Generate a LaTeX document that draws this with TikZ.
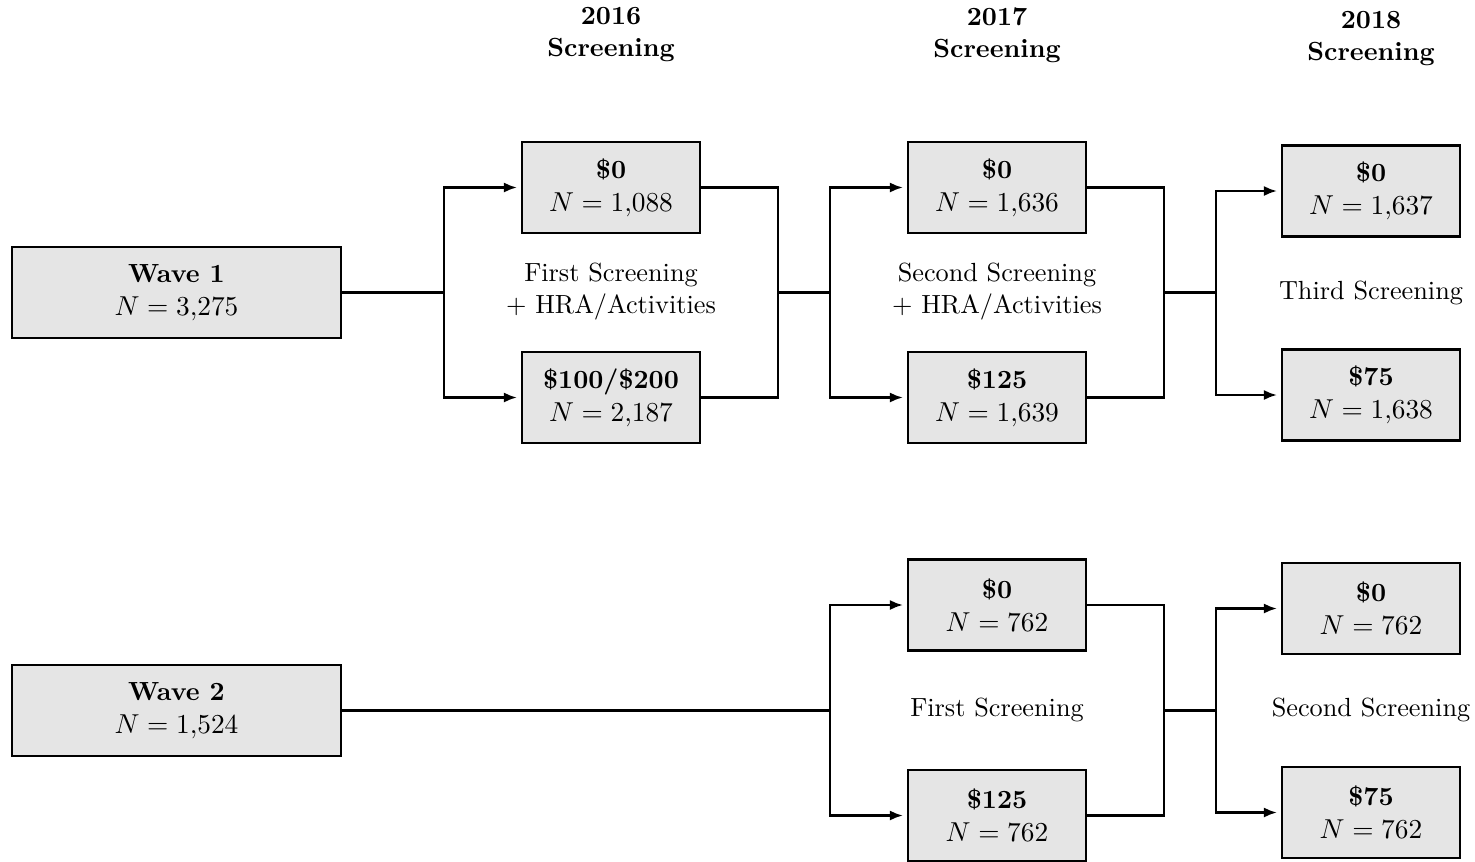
\documentclass[tikz,border=0pt]{standalone}
\usetikzlibrary{arrows.meta}
\begin{document}
\begin{tikzpicture}[x=0.4pt,y=-0.4pt,
  box/.style={draw=black,line width=0.85pt,fill=black!10,align=center,inner sep=0pt,
    minimum width=71.2pt,minimum height=36.4pt,font=\fontsize{10.5}{13.2}\selectfont},
  wavebox/.style={box,minimum width=131.6pt},
  lbl/.style={align=center,inner sep=0pt,font=\fontsize{10.5}{12.8}\selectfont},
  hdr/.style={align=center,inner sep=0pt,font=\bfseries\fontsize{10.5}{12.8}\selectfont},
  ln/.style={line width=0.85pt},
  arr/.style={ln,shorten >=1.6pt,-{Latex[length=5.2pt,width=4pt]}}]
\useasboundingbox (0,0) rectangle (1475,861);
% headers
\node[hdr] (h16) at (611,35) {2016\\Screening};
\node[hdr] (h17) at (997,35) {2017\\Screening};
\node[hdr] (h18) at (1371,39) {2018\\Screening};
% wave 1
\node[wavebox] (w1) at (176.5,292.5) {\textbf{Wave 1}\\$N=3{,}275$};
\node[box] (a0) at (611,187.5) {\textbf{\$0}\\$N=1{,}088$};
\node[box] (a1) at (611,397.5) {\textbf{\$100/\$200}\\$N=2{,}187$};
\node[box] (b0) at (997,187.5) {\textbf{\$0}\\$N=1{,}636$};
\node[box] (b1) at (997,397.5) {\textbf{\$125}\\$N=1{,}639$};
\node[box] (c0) at (1371,191) {\textbf{\$0}\\$N=1{,}637$};
\node[box] (c1) at (1371,395) {\textbf{\$75}\\$N=1{,}638$};
\node[lbl] (la) at (611,292) {First Screening\\+ HRA/Activities};
\node[lbl] (lb) at (997,292) {Second Screening\\+ HRA/Activities};
\node[lbl] (lc) at (1371,293) {Third Screening};
\coordinate (j1) at (444,292.5);
\coordinate (m1) at (778,292.5);
\coordinate (j2) at (830,292.5);
\coordinate (m2) at (1164,292.5);
\coordinate (j3) at (1216,292.5);
\draw[ln] (w1.east) -- (j1);
\draw[arr] (j1) |- (a0.west);
\draw[arr] (j1) |- (a1.west);
\draw[ln] (a0.east) -| (m1) |- (a1.east);
\draw[ln] (m1) -- (j2);
\draw[arr] (j2) |- (b0.west);
\draw[arr] (j2) |- (b1.west);
\draw[ln] (b0.east) -| (m2) |- (b1.east);
\draw[ln] (m2) -- (j3);
\draw[arr] (j3) |- (c0.west);
\draw[arr] (j3) |- (c1.west);
% wave 2
\node[wavebox] (w2) at (176.5,710.5) {\textbf{Wave 2}\\$N=1{,}524$};
\node[box] (d0) at (997,605) {\textbf{\$0}\\$N=762$};
\node[box] (d1) at (997,815.5) {\textbf{\$125}\\$N=762$};
\node[box] (e0) at (1371,608.5) {\textbf{\$0}\\$N=762$};
\node[box] (e1) at (1371,812.5) {\textbf{\$75}\\$N=762$};
\node[lbl] (ld) at (997,710) {First Screening};
\node[lbl] (le) at (1371,710) {Second Screening};
\coordinate (j4) at (830,710.5);
\coordinate (m4) at (1164,710.5);
\coordinate (j5) at (1216,710.5);
\draw[ln] (w2.east) -- (j4);
\draw[arr] (j4) |- (d0.west);
\draw[arr] (j4) |- (d1.west);
\draw[ln] (d0.east) -| (m4) |- (d1.east);
\draw[ln] (m4) -- (j5);
\draw[arr] (j5) |- (e0.west);
\draw[arr] (j5) |- (e1.west);
\end{tikzpicture}
\end{document}
